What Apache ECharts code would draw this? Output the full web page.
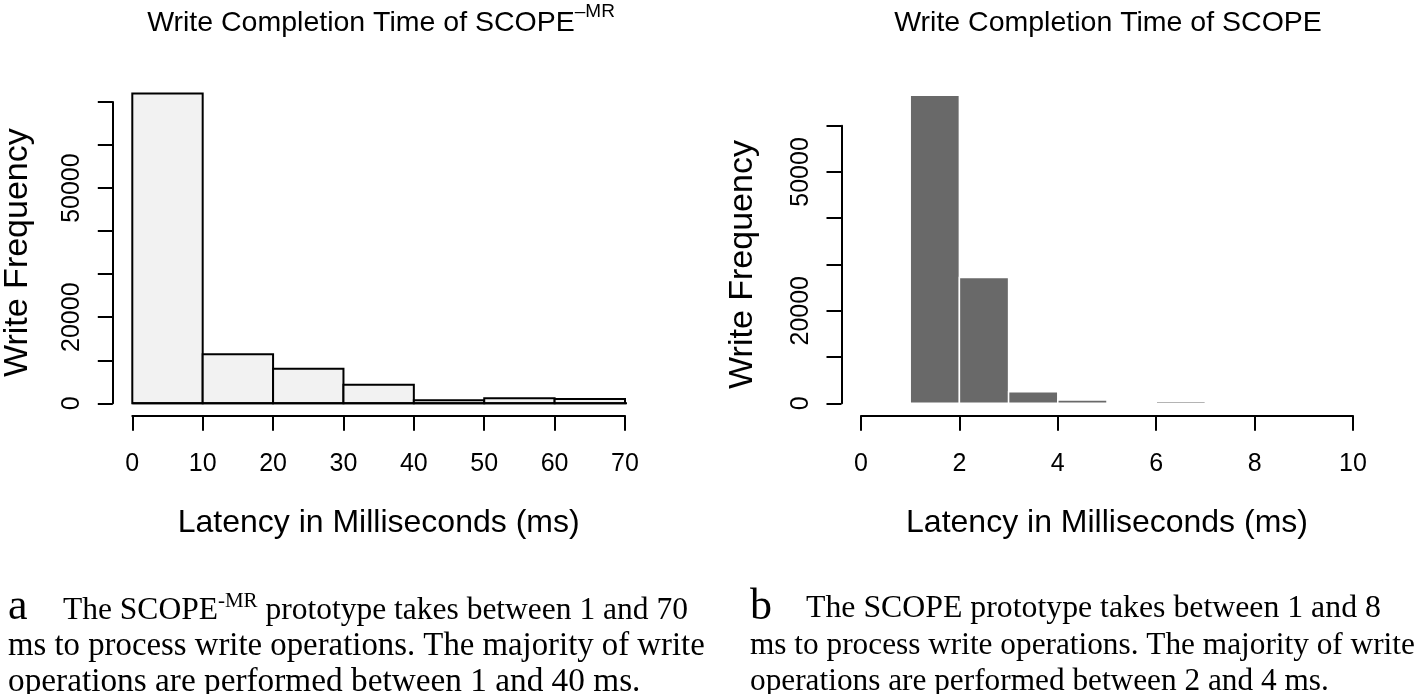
<!DOCTYPE html>
<html>
<head>
<meta charset="utf-8">
<script src="https://cdn.jsdelivr.net/npm/echarts@6/dist/echarts.min.js"></script>
<style>
html,body{margin:0;padding:0;background:#fff;}
#chart{width:1418px;height:694px;}
</style>
</head>
<body>
<div id="chart"></div>
<script>
// ---- data ----
// Left histogram: SCOPE^-MR write latency bins (ms) and frequencies
const mrBinStarts = [0, 10, 20, 30, 40, 50, 60];
const mrBinEnds   = [10, 20, 30, 40, 50, 60, 70];
const mrCounts    = [72000, 11400, 8000, 4300, 700, 1150, 1000];
const mrBaseline  = [0, 72.8];           // horizontal line drawn at y = 0
const mrXTicks    = [0, 10, 20, 30, 40, 50, 60, 70];

// Right histogram: SCOPE write latency bins (ms) and frequencies
const scBinStarts = [1, 2, 3, 4, 5, 6, 7];
const scBinEnds   = [2, 3, 4, 5, 6, 7, 8];
const scCounts    = [66600, 27200, 2500, 700, 0, 450, 0];
const scXTicks    = [0, 2, 4, 6, 8, 10];

// Y tick labels that are printed (others are unlabeled ticks)
const yLabelsShown = [0, 20000, 50000];

const titles = ['Write Completion Time of SCOPE', 'Write Completion Time of SCOPE'];
const xTitle = 'Latency in Milliseconds (ms)';
const yTitle = 'Write Frequency';

// ---- chart ----
const SANS = '"Liberation Sans", Arial, Helvetica, sans-serif';
const SERIF = '"Liberation Serif", "Times New Roman", serif';

function rows(starts, ends, counts){
  return starts.map((s, i) => [s, ends[i], counts[i]]);
}

function histRender(fill, stroke, lw){
  return function(params, api){
    const x0 = api.value(0), x1 = api.value(1), v = api.value(2);
    if (v <= 0) return null;
    const p0 = api.coord([x0, 0]);
    const p1 = api.coord([x1, v]);
    return {
      type: 'rect',
      shape: {x: p0[0], y: p1[1], width: p1[0] - p0[0], height: p0[1] - p1[1]},
      style: {fill: fill, stroke: stroke, lineWidth: lw}
    };
  };
}

function xAxisCfg(gridIndex, ticks){
  return {
    type: 'value', gridIndex: gridIndex,
    min: ticks[0], max: ticks[ticks.length - 1], interval: ticks[1] - ticks[0],
    offset: 12.4,
    axisLine: {show: true, onZero: false, lineStyle: {color: '#000', width: 2}},
    axisTick: {show: true, length: 15, lineStyle: {color: '#000', width: 2}},
    axisLabel: {show: true, margin: 36, fontSize: 25, fontFamily: SANS, color: '#000',
                showMinLabel: true, showMaxLabel: true, hideOverlap: false},
    splitLine: {show: false},
    name: xTitle, nameLocation: 'middle', nameGap: 91,
    nameTextStyle: {fontSize: 32, fontFamily: SANS, color: '#000'}
  };
}

function yAxisCfg(gridIndex, maxV, nameGap){
  return {
    type: 'value', gridIndex: gridIndex,
    min: 0, max: maxV, interval: 10000,
    offset: 19.5,
    axisLine: {show: true, onZero: false, lineStyle: {color: '#000', width: 2}},
    axisTick: {show: true, length: 15, lineStyle: {color: '#000', width: 2}},
    axisLabel: {show: true, rotate: 90, margin: 28, fontSize: 25, fontFamily: SANS, color: '#000',
                showMinLabel: true, showMaxLabel: true, hideOverlap: false,
                formatter: v => yLabelsShown.indexOf(v) >= 0 ? String(v) : ''},
    splitLine: {show: false},
    name: yTitle, nameLocation: 'middle', nameRotate: 90, nameGap: nameGap,
    nameTextStyle: {fontSize: 34, fontFamily: SANS, color: '#000'}
  };
}

const chart = echarts.init(document.getElementById('chart'), null, {renderer: 'canvas'});

function capText(x, y, text, size){
  return {type: 'text', x: x, y: y,
          style: {text: text, textVerticalAlign: 'middle', fontSize: size, fontFamily: SERIF, fill: '#000'}};
}

const option = {
  animation: false,
  backgroundColor: '#fff',
  grid: [
    {left: 132.3, right: 793, top: 102, bottom: 290.7, containLabel: false, outerBoundsMode: 'none'},
    {left: 861, right: 65, top: 125.7, bottom: 290.7, containLabel: false, outerBoundsMode: 'none'}
  ],
  xAxis: [xAxisCfg(0, mrXTicks), xAxisCfg(1, scXTicks)],
  yAxis: [yAxisCfg(0, 70000, 78), yAxisCfg(1, 60000, 82)],
  series: [
    {
      type: 'custom', xAxisIndex: 0, yAxisIndex: 0, clip: false,
      renderItem: histRender('#f2f2f2', '#000', 2),
      encode: {x: [0, 1], y: 2},
      data: rows(mrBinStarts, mrBinEnds, mrCounts)
    },
    {
      type: 'line', xAxisIndex: 0, yAxisIndex: 0, clip: false, symbol: 'none',
      lineStyle: {color: '#000', width: 2}, z: 5,
      data: mrBaseline.map(x => [x, 0])
    },
    {
      type: 'custom', xAxisIndex: 1, yAxisIndex: 1, clip: false,
      renderItem: histRender('#696969', '#ffffff', 1.5),
      encode: {x: [0, 1], y: 2},
      data: rows(scBinStarts, scBinEnds, scCounts)
    }
  ],
  graphic: [
    {
      type: 'text', x: 381, y: 2,
      style: {
        text: '{m|' + titles[0] + '}{s|–MR}',
        textAlign: 'center', textVerticalAlign: 'top',
        rich: {
          m: {fontSize: 28.5, fontFamily: SANS, color: '#000', lineHeight: 36, verticalAlign: 'bottom'},
          s: {fontSize: 19, fontFamily: SANS, color: '#000', lineHeight: 19, verticalAlign: 'top'}
        }
      }
    },
    {
      type: 'text', x: 1108, y: 2,
      style: {
        text: '{m|' + titles[1] + '}',
        textAlign: 'center', textVerticalAlign: 'top',
        rich: {m: {fontSize: 28.5, fontFamily: SANS, color: '#000', lineHeight: 36, verticalAlign: 'bottom'}}
      }
    },
    // caption a
    {type: 'text', x: 8, y: 607, style: {text: 'a', fontSize: 44, fontFamily: SERIF, fill: '#000', textVerticalAlign: 'middle'}},
    {
      type: 'text', x: 63, y: 609,
      style: {
        text: '{t|The SCOPE}{s|-MR}{t| prototype takes between 1 and 70}',
        textVerticalAlign: 'middle',
        rich: {
          t: {fontSize: 31.5, fontFamily: SERIF, color: '#000', lineHeight: 36, verticalAlign: 'bottom'},
          s: {fontSize: 21, fontFamily: SERIF, color: '#000', lineHeight: 21, verticalAlign: 'top'}
        }
      }
    },
    capText(8, 646, 'ms to process write operations. The majority of write', 32.8),
    capText(8, 682, 'operations are performed between 1 and 40 ms.', 33.3),
    // caption b
    {type: 'text', x: 750, y: 607, style: {text: 'b', fontSize: 44, fontFamily: SERIF, fill: '#000', textVerticalAlign: 'middle'}},
    capText(806, 609, 'The SCOPE prototype takes between 1 and 8', 31.8),
    capText(750, 646, 'ms to process write operations. The majority of write', 31.3),
    capText(750, 682, 'operations are performed between 2 and 4 ms.', 31.3)
  ]
};
chart.setOption(option);
</script>
</body>
</html>
